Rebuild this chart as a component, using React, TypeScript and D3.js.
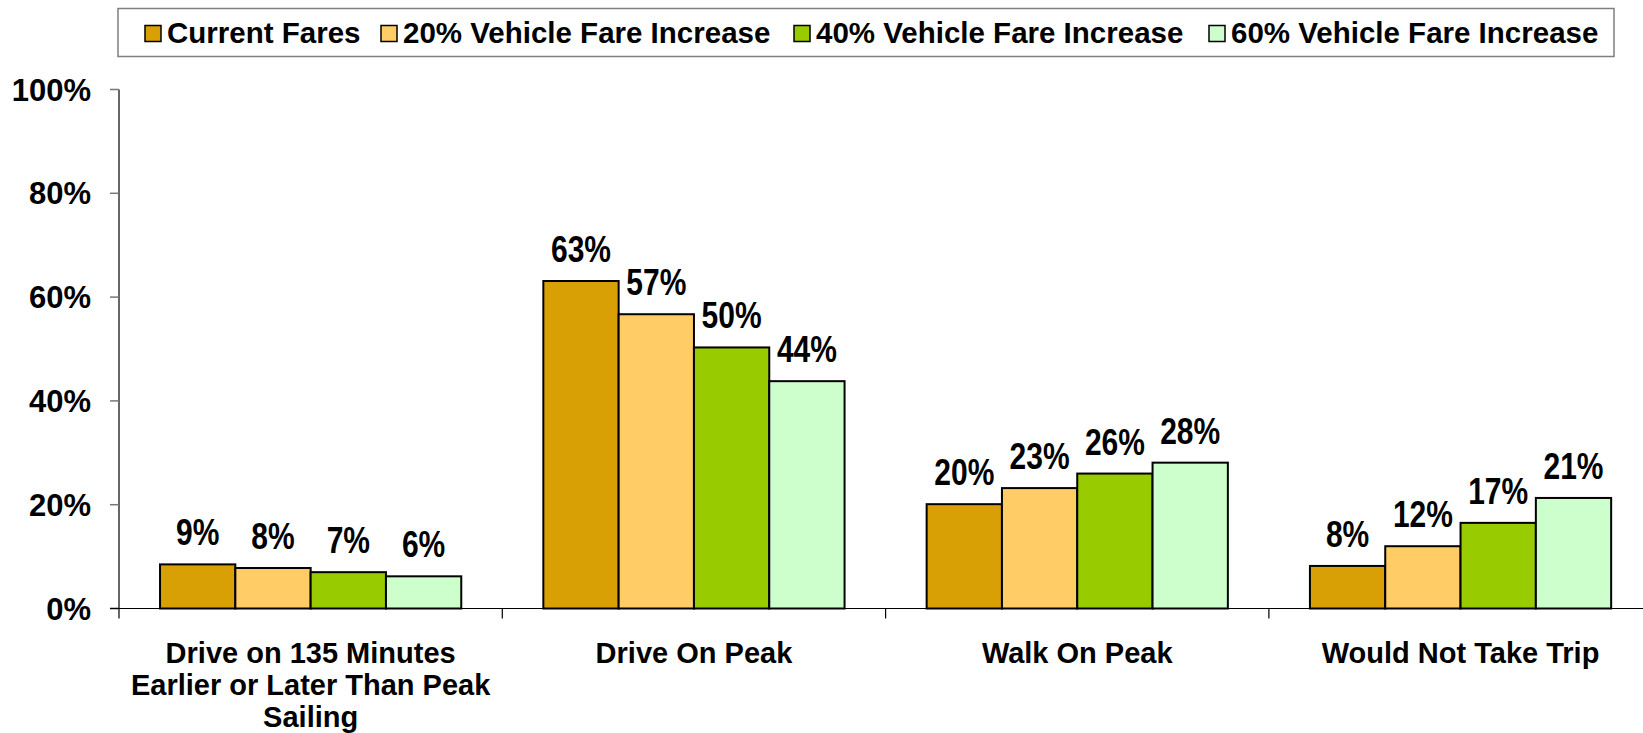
import React from 'react'
import * as d3 from 'd3'

const categories: string[][] = [
  ['Drive on 135 Minutes', 'Earlier or Later Than Peak', 'Sailing'],
  ['Drive On Peak'],
  ['Walk On Peak'],
  ['Would Not Take Trip'],
]
const seriesNames = ['Current Fares', '20% Vehicle Fare Increase', '40% Vehicle Fare Increase', '60% Vehicle Fare Increase']
const seriesColors = ['#D9A005', '#FFCC66', '#99CC00', '#CCFFCC']
// values in percent, one array per series
const currentFares = [8.5, 63.1, 20.1, 8.2]
const increase20 = [7.8, 56.7, 23.2, 12.0]
const increase40 = [7.0, 50.3, 26.0, 16.5]
const increase60 = [6.2, 43.8, 28.1, 21.3]
const yTicks = [0, 20, 40, 60, 80, 100]

const series = [currentFares, increase20, increase40, increase60]

const W = 1643
const H = 733
const font = '"Liberation Sans", Arial, sans-serif'

export default function App() {
  const left = 119
  const bandW = 383.3
  const x0 = d3.scaleBand<number>().domain(d3.range(categories.length)).range([left, left + bandW * categories.length])
  const x1 = d3.scaleBand<number>().domain(d3.range(series.length)).range([0, x0.bandwidth()]).paddingOuter(0.545).paddingInner(0)
  const y = d3.scaleLinear().domain([0, 100]).range([608.5, 89.5])

  const legendX = [145, 381, 794, 1209]

  return (
    <svg width={W} height={H} style={{ position: 'absolute', left: 0, top: 0, background: '#fff' }} fontFamily={font} fontWeight="bold">
      {/* legend */}
      <rect x={118} y={8.5} width={1496} height={48} fill="#fff" stroke="#7f7f7f" strokeWidth={1.5} />
      {seriesNames.map((name, i) => (
        <g key={name} transform={`translate(${legendX[i]},0)`}>
          <rect x={0} y={25.5} width={16} height={16} fill={seriesColors[i]} stroke="#000" strokeWidth={1.5} />
          <text x={22} y={42.5} fontSize={29.5}>{name}</text>
        </g>
      ))}

      {/* y axis */}
      <line x1={left} x2={left} y1={y(100)} y2={y(0)} stroke="#000" strokeWidth={1.2} />
      {yTicks.map(t => (
        <g key={t}>
          <line x1={left - 9} x2={left} y1={y(t)} y2={y(t)} stroke={t === 0 ? '#000' : '#777'} strokeWidth={1.5} />
          <text x={91} y={y(t) + 11} fontSize={31} textAnchor="end">{t}%</text>
        </g>
      ))}

      {/* bars */}
      {categories.map((cat, ci) => (
        <g key={ci} transform={`translate(${x0(ci)},0)`}>
          {series.map((vals, si) => (
            <rect key={si} x={x1(si)} y={y(vals[ci])} width={x1.bandwidth()} height={y(0) - y(vals[ci])}
              fill={seriesColors[si]} stroke="#000" strokeWidth={2} />
          ))}
          {series.map((vals, si) => (
            <text key={'l' + si}
              transform={`translate(${(x1(si) as number) + x1.bandwidth() / 2},${y(vals[ci]) - 19}) scale(1,1.25)`}
              fontSize={30} textAnchor="middle">
              {Math.round(vals[ci])}%
            </text>
          ))}
        </g>
      ))}

      {/* x axis */}
      <line x1={left} x2={W} y1={y(0)} y2={y(0)} stroke="#000" strokeWidth={1.2} />
      {d3.range(categories.length + 1).map(i => (
        <line key={i} x1={left + bandW * i} x2={left + bandW * i} y1={y(0)} y2={y(0) + 10} stroke="#000" strokeWidth={1.2} />
      ))}
      {categories.map((lines, ci) => (
        <text key={ci} x={(x0(ci) as number) + x0.bandwidth() / 2} y={663} fontSize={29} textAnchor="middle">
          {lines.map((ln, li) => (
            <tspan key={li} x={(x0(ci) as number) + x0.bandwidth() / 2} dy={li === 0 ? 0 : 32}>{ln}</tspan>
          ))}
        </text>
      ))}
    </svg>
  )
}
